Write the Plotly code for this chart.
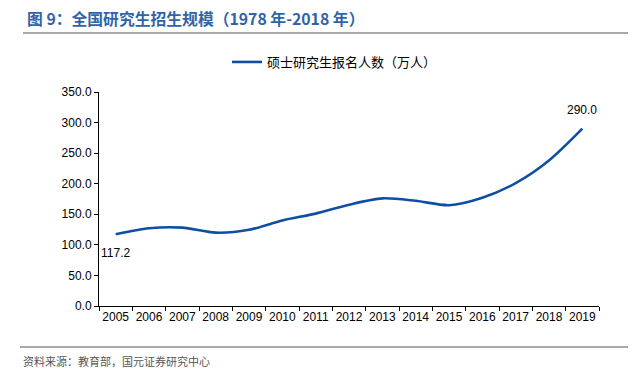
import plotly.graph_objects as go

years = [str(y) for y in range(2005, 2020)]
applicants = [117.2, 127.1, 128.2, 120.0, 124.6, 140.0, 151.1, 165.6, 176.0, 172.0, 164.9, 177.0, 201.0, 238.0, 290.0]
series_name = "硕士研究生报名人数（万人）"
y_ticks = [0, 50, 100, 150, 200, 250, 300, 350]
title_text = "图 9：全国研究生招生规模（1978 年-2018 年）"
source_text = "资料来源：教育部，国元证券研究中心"

# page body has an 8px margin; target pixel layout of the window is compensated
OFF = 8
W, H = 636 - OFF, 371 - OFF
L, R, T, B = 99 - OFF, 37, 92 - OFF, 65
pw, ph = W - L - R, H - T - B

def px(x):
    return (x - OFF - L) / pw

def py(y):
    return (H - B - (y - OFF)) / ph

xs = list(range(len(years)))
line_color = "#0F4FA3"
fig = go.Figure()
fig.add_trace(go.Scatter(
    x=xs, y=applicants, mode="lines", name=series_name,
    line=dict(color=line_color, width=2.6, shape="spline", smoothing=0.8),
))

for i, shift in [(0, -19), (len(years) - 1, 19)]:
    fig.add_annotation(
        x=xs[i], y=applicants[i], text=f"{applicants[i]:.1f}", showarrow=False,
        yshift=shift,
        font=dict(family="Liberation Sans, Arial", size=12, color="#000"),
    )

fig.add_annotation(xref="paper", yref="paper", x=px(25), y=py(18), xanchor="left", yanchor="middle",
                   text="<b>" + title_text + "</b>", showarrow=False,
                   font=dict(family="Noto Sans CJK SC", size=15.8, color="#2F64AA"))
fig.add_annotation(xref="paper", yref="paper", x=px(21), y=py(361), xanchor="left", yanchor="middle",
                   text=source_text, showarrow=False,
                   font=dict(family="Noto Sans CJK SC", size=11, color="#555"))
fig.add_shape(type="line", xref="paper", yref="paper", x0=px(23), x1=px(640), y0=py(33), y1=py(33),
              line=dict(color="#555", width=1.2))
fig.add_shape(type="line", xref="paper", yref="paper", x0=px(20), x1=px(640), y0=py(347), y1=py(347),
              line=dict(color="#555", width=1.2))

fig.update_layout(
    width=W, height=H, margin=dict(l=L, r=R, t=T, b=B),
    paper_bgcolor="white", plot_bgcolor="white",
    showlegend=True,
    legend=dict(x=px(227), y=py(62), xanchor="left", yanchor="middle", orientation="h",
                font=dict(family="Noto Sans CJK SC", size=13, color="#000"), bgcolor="rgba(0,0,0,0)"),
    xaxis=dict(range=[-0.5, len(years) - 0.5], tickvals=xs, ticktext=years, ticks="",
               showgrid=False, zeroline=False, showline=True, linecolor="#000", linewidth=1,
               minor=dict(tickvals=[i - 0.5 for i in range(len(years) + 1)], ticks="outside",
                          ticklen=4, tickcolor="#000", showgrid=False),
               tickfont=dict(family="Liberation Sans, Arial", size=12, color="#000")),
    yaxis=dict(range=[0, 350], tickvals=y_ticks, tickformat=".1f", showgrid=False, zeroline=False,
               showline=True, linecolor="#000", linewidth=1, ticks="outside", ticklen=4, tickcolor="#000",
               tickfont=dict(family="Liberation Sans, Arial", size=12, color="#000")),
)

fig.write_html("out.html")
